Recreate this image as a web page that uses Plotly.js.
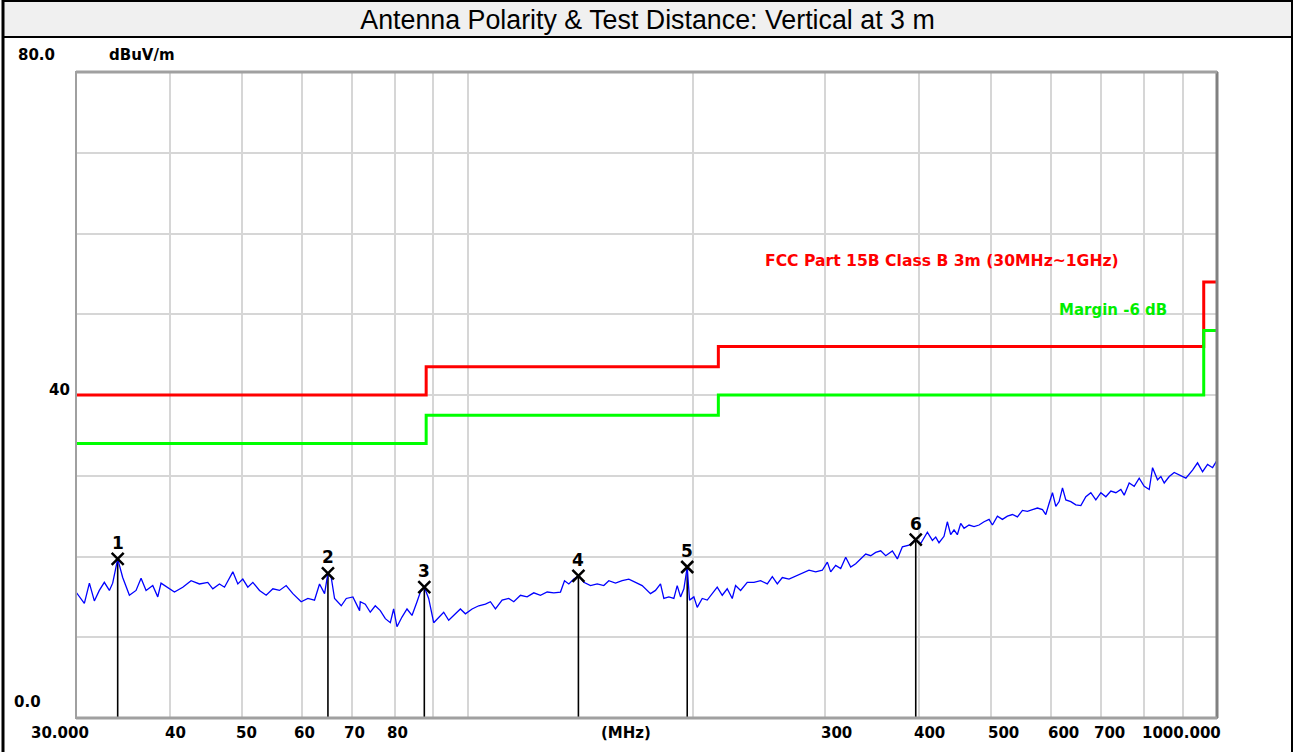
<!DOCTYPE html>
<html>
<head>
<meta charset="utf-8">
<script src="https://cdn.plot.ly/plotly-3.0.1.min.js"></script>
<style>
  html, body { margin: 0; padding: 0; background: #ffffff; }
  #chart { width: 1295px; height: 752px; }
</style>
</head>
<body>
<div id="chart"></div>
<script>
const traceFreqA = [30.00,30.78,31.26,31.74,32.23,32.73,33.24,33.58,34.10,34.63,35.35,36.08,36.64,37.21,37.98,38.57,38.96,39.77,40.60,41.65,42.73,43.84,44.98,45.68,46.62,47.35,48.58,49.33,50.09,50.87,51.66,52.73,53.82,54.94,56.07,57.23,58.42,59.93,61.18,62.44,63.41,64.40,65.06,65.73,66.41,67.79,68.84,70.26,71.72];
const traceLevelA = [15.6,14.2,16.7,14.5,15.8,16.8,15.8,16.7,19.7,17.4,15.2,15.8,17.3,15.8,16.4,15.0,16.7,16.2,15.6,16.2,17.0,16.6,16.8,16.0,16.6,16.2,18.1,16.6,17.2,16.2,16.8,15.8,15.2,16.0,15.8,16.4,15.4,14.4,14.8,14.6,16.6,15.4,17.9,17.4,14.8,13.9,14.8,15.0,13.3];
const traceFreqB = [71.87,72.98,74.11,75.26,76.43,77.62,78.82,79.63,80.45,81.70,82.97,84.25,85.56,86.44,87.51,88.68,90.06,91.45,92.87,94.31,95.77,97.76,99.28,101.34,103.44,105.58,107.21,108.88,111.13,113.43,115.19,117.58,120.01,122.50,125.03,127.63,130.27,132.97,134.62,136.42,138.53,140.68,142.86,145.82,148.84,151.91,154.27,157.46,160.72,164.05,167.45,170.91];
const traceLevelB = [14.4,14.1,13.1,13.9,13.3,12.3,11.8,13.5,11.3,12.5,13.5,12.7,14.4,15.6,16.2,14.8,11.8,12.5,13.1,12.1,12.7,13.5,12.9,13.5,13.9,14.1,14.4,13.5,14.6,14.8,14.4,15.2,15.0,15.5,15.2,15.6,15.5,15.6,17.0,16.6,17.2,17.6,16.8,16.4,16.6,16.4,17.0,16.7,17.0,17.2,16.8,16.4];
const traceFreqC = [175.35,178.06,180.82,182.69,185.52,188.40,190.34,192.31,194.29,196.29,197.70,200.35,202.42,205.56,208.75,211.98,215.26,218.60,221.98,225.43,227.75,231.28,236.08,240.98,245.97,251.07,254.97,258.91,262.93,268.38,273.95,279.63,285.42,291.34,297.32,301.95,305.07,309.79,314.60,319.47,324.42,329.44,334.55,339.73,344.99,350.33,355.76,361.27,368.74,374.46,380.26,388.13,396.15,402.29,410.63,417.00,421.30];
const traceLevelC = [15.4,15.8,16.6,14.8,15.0,14.8,16.4,15.0,16.0,18.7,14.6,15.0,13.7,14.8,14.6,15.4,16.2,15.2,16.0,14.8,16.4,15.8,16.8,16.8,17.0,16.6,17.5,16.6,17.4,17.2,17.6,17.9,18.3,18.1,18.3,19.3,18.1,18.9,18.5,19.9,18.7,19.1,19.7,20.3,20.1,20.5,20.7,20.1,20.7,19.7,21.2,21.4,22.1,21.6,23.0,22.0,22.4];
const traceFreqD = [425.57,432.16,436.61,441.12,445.66,450.25,454.90,459.59,466.72,473.96,481.31,488.77,496.35,501.46,509.23,517.12,525.13,533.27,541.54,549.93,558.45,567.14,575.91,584.87,590.89,596.98,603.14,609.34,615.62,621.98,628.39,638.12,648.00,658.09,668.26,678.59,689.09,699.87,710.64,721.64,732.85,744.19,751.85,763.49,775.32,787.34,799.56,811.95,820.33,833.02,841.59,850.30,863.48,876.77,890.37,908.79,927.61,941.98,956.61,971.44,986.44,1000];
const traceLevelD = [21.7,22.5,24.3,22.7,23.3,22.7,24.1,23.5,23.9,23.7,23.9,24.3,24.6,23.9,25.0,24.6,25.0,25.2,24.9,25.7,25.6,25.8,26.0,25.8,25.2,26.6,27.9,26.2,26.8,28.5,27.0,26.8,26.4,26.3,27.4,27.9,27.0,27.9,27.4,28.1,27.9,28.3,27.6,29.1,28.7,29.7,28.7,28.3,31.0,29.5,29.9,29.1,29.9,30.4,30.1,29.7,30.7,31.6,30.5,31.4,31.0,31.9];

// ---- Limit lines (step start frequencies) ----
const limitFreq   = [30, 88, 216, 960, 1000];
const limitLevel  = [40, 43.5, 46, 54, 54];
const marginLevel = [34, 37.5, 40, 48, 48];

// ---- Markers ----
const markerNames = ["1","2","3","4","5","6"];
const markerFreq  = [34.1, 65.07, 87.5, 140.5, 196.3, 396.2];
const markerLevel = [19.7, 17.9, 16.2, 17.6, 18.7, 22.1];

// ---- Axes ----
const xGridVals  = [40,50,60,70,80,90,100,200,300,400,500,600,700,800,900];
const xTickVals  = [30,40,50,60,70,80,300,400,500,600,700,1000];
const xTickText  = ["30.000","40","50","60","70","80","300","400","500","600","700","1000.000"];
const xTickShift = [-16,6,4,3,3,2,11,11,12,13,9,-36];

const traceFreq = traceFreqA.concat(traceFreqB, traceFreqC, traceFreqD);
const traceLevel = traceLevelA.concat(traceLevelB, traceLevelC, traceLevelD);

const stemX = [], stemY = [];
markerFreq.forEach((f, i) => { stemX.push(f, f, null); stemY.push(markerLevel[i], 0, null); });

const data = [
  { x: limitFreq, y: limitLevel, mode: 'lines', line: {color: '#ff0000', width: 3, shape: 'hv'}, type: 'scatter', cliponaxis: false },
  { x: limitFreq, y: marginLevel, mode: 'lines', line: {color: '#00ff00', width: 3, shape: 'hv'}, type: 'scatter', cliponaxis: false },
  { x: stemX, y: stemY, mode: 'lines', line: {color: '#000000', width: 1.6}, type: 'scatter' },
  { x: traceFreq, y: traceLevel, mode: 'lines', line: {color: '#0000ff', width: 1.3}, type: 'scatter' },
  { x: markerFreq, y: markerLevel, mode: 'markers', marker: {symbol: 'x-thin-open', size: 12, color: '#000000', line: {color: '#000000', width: 2.5}}, type: 'scatter', cliponaxis: false }
];

const L = 76, R = 1217, T = 72, B = 718, W = 1295, H = 752;
const px = v => (v - L) / (R - L);
const py = v => (B - v) / (B - T);

const bold = 'DejaVu Sans, Verdana, sans-serif';
const lblFont = {family: bold, size: 15, color: '#000000'};
const annotations = [];
xTickVals.forEach((v, i) => {
  annotations.push({ x: Math.log10(v), y: 0, xref: 'x', yref: 'y', text: '<b>' + xTickText[i] + '</b>',
    showarrow: false, xanchor: 'center', yanchor: 'middle', xshift: xTickShift[i], yshift: -15, font: lblFont });
});
annotations.push({ x: px(626), y: 0, xref: 'paper', yref: 'y', text: '<b>(MHz)</b>', showarrow: false,
  xanchor: 'center', yanchor: 'middle', yshift: -15, font: lblFont });
annotations.push({ x: 0, y: 80, xref: 'paper', yref: 'y', text: '<b>80.0</b>', showarrow: false,
  xanchor: 'right', yanchor: 'middle', xshift: -19, yshift: 17, font: lblFont });
annotations.push({ x: 0, y: 80, xref: 'paper', yref: 'y', text: '<b>dBuV/m</b>', showarrow: false,
  xanchor: 'left', yanchor: 'middle', xshift: 31, yshift: 17, font: lblFont });
annotations.push({ x: 0, y: 40, xref: 'paper', yref: 'y', text: '<b>40</b>', showarrow: false,
  xanchor: 'right', yanchor: 'middle', xshift: -4, yshift: 5, font: lblFont });
annotations.push({ x: 0, y: 0, xref: 'paper', yref: 'y', text: '<b>0.0</b>', showarrow: false,
  xanchor: 'right', yanchor: 'middle', xshift: -33, yshift: 16, font: lblFont });
markerNames.forEach((n, i) => {
  annotations.push({ x: Math.log10(markerFreq[i]), y: markerLevel[i], xref: 'x', yref: 'y', text: '<b>' + n + '</b>',
    showarrow: false, xanchor: 'center', yanchor: 'middle', yshift: 16, font: {family: bold, size: 17, color: '#000'} });
});
annotations.push({ x: px(763), y: py(261), xref: 'paper', yref: 'paper', text: '<b>FCC Part 15B Class B 3m (30MHz~1GHz)</b>',
  showarrow: false, xanchor: 'left', yanchor: 'middle', font: {family: bold, size: 15.6, color: '#ff0000'} });
annotations.push({ x: px(1057), y: py(310), xref: 'paper', yref: 'paper', text: '<b>Margin -6 dB</b>',
  showarrow: false, xanchor: 'left', yanchor: 'middle', font: {family: bold, size: 15, color: '#00ee00'} });

const shapes = [
  // title bar
  { type: 'rect', xref: 'paper', yref: 'paper', x0: px(3), x1: px(1292), y0: py(37), y1: py(0), fillcolor: '#f0f0f0', line: {width: 0}, layer: 'below' },
  { type: 'line', xref: 'paper', yref: 'paper', x0: px(3), x1: px(1292), y0: py(37), y1: py(37), line: {color: '#000', width: 2} },
  { type: 'line', xref: 'paper', yref: 'paper', x0: px(3), x1: px(1292), y0: py(1), y1: py(1), line: {color: '#000', width: 2} },
  { type: 'line', xref: 'paper', yref: 'paper', x0: px(3), x1: px(3), y0: py(752), y1: py(0), line: {color: '#000', width: 3} },
  { type: 'line', xref: 'paper', yref: 'paper', x0: px(1292), x1: px(1292), y0: py(752), y1: py(0), line: {color: '#000', width: 2} },
  // plot frame
  { type: 'rect', xref: 'paper', yref: 'paper', x0: 0, x1: 1, y0: 0, y1: 1, line: {color: '#a0a0a0', width: 2} },
  { type: 'line', xref: 'paper', yref: 'paper', x0: 1, x1: 1, y0: 0, y1: 1, line: {color: '#808080', width: 3} },
  { type: 'line', xref: 'paper', yref: 'paper', x0: 0, x1: 1, y0: 0, y1: 0, line: {color: '#a0a0a0', width: 3} },
  { type: 'line', xref: 'paper', yref: 'paper', x0: 0, x1: 1, y0: 1, y1: 1, line: {color: '#a0a0a0', width: 3} }
];

const layout = {
  width: W, height: H,
  margin: {l: L, r: W - R, t: T, b: H - B, pad: 0},
  paper_bgcolor: '#ffffff', plot_bgcolor: '#ffffff',
  showlegend: false, hovermode: false,
  title: { text: 'Antenna Polarity & Test Distance: Vertical at 3 m', x: 0.5, xref: 'container', xanchor: 'center',
           y: 1 - 20 / H, yref: 'container', yanchor: 'middle',
           font: {family: 'Liberation Sans, Arial, sans-serif', size: 26.8, color: '#000000'} },
  xaxis: { type: 'log', range: [Math.log10(30), Math.log10(1000)], tickmode: 'array', tickvals: xGridVals,
           showticklabels: false, ticks: '', showgrid: true, gridcolor: '#d6d6d6', gridwidth: 2, zeroline: false, showline: false, fixedrange: true },
  yaxis: { range: [0, 80], dtick: 10, tick0: 0, showticklabels: false, ticks: '', showgrid: true, gridcolor: '#d6d6d6', gridwidth: 2,
           zeroline: false, showline: false, fixedrange: true },
  annotations: annotations,
  shapes: shapes
};

Plotly.newPlot('chart', data, layout, {displayModeBar: false, staticPlot: true});
</script>
</body>
</html>
